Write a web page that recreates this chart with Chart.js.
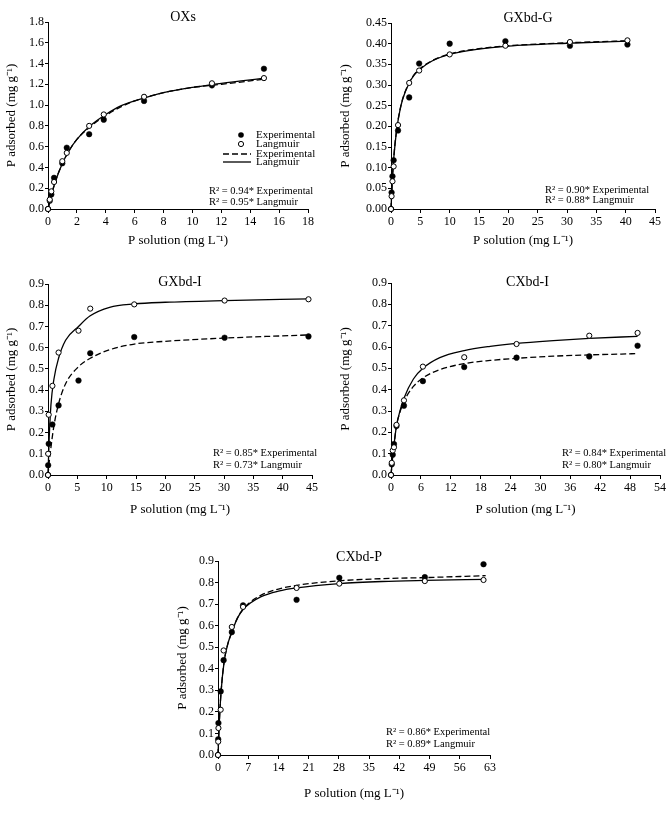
<!DOCTYPE html>
<html>
<head>
<meta charset="utf-8">
<title>P adsorption isotherms</title>
<script src="https://cdn.jsdelivr.net/npm/chart.js"></script>
<style>
    body { margin: 0; background: #fff; overflow: hidden; }
    #page { position: relative; width: 669px; height: 823px; }
    .panel { position: absolute; }
</style>
</head>
<body>
<div id="page">
    <div class="panel" id="p1"><canvas id="c1"></canvas></div>
    <div class="panel" id="p2"><canvas id="c2"></canvas></div>
    <div class="panel" id="p3"><canvas id="c3"></canvas></div>
    <div class="panel" id="p4"><canvas id="c4"></canvas></div>
    <div class="panel" id="p5"><canvas id="c5"></canvas></div>
</div>
<script>
// OXs
var oxsX    = [0, 0.12, 0.23, 0.42, 0.99, 1.3, 2.85, 3.86, 6.65, 11.35, 14.95];
var oxsExp  = [0, 0.08, 0.14, 0.30, 0.44, 0.59, 0.72, 0.86, 1.04, 1.19, 1.35];
var oxsLang = [0, 0.09, 0.17, 0.26, 0.46, 0.54, 0.80, 0.91, 1.08, 1.21, 1.26];
var oxsFitX    = [0, 0.25, 0.5, 1, 1.5, 2, 3, 4, 5, 6, 8, 10, 12, 15];
var oxsExpFit  = [0, 0.14, 0.26, 0.44, 0.57, 0.67, 0.80, 0.90, 0.98, 1.04, 1.12, 1.17, 1.20, 1.25];
var oxsLangFit = [0, 0.14, 0.26, 0.44, 0.57, 0.67, 0.81, 0.91, 0.99, 1.04, 1.12, 1.17, 1.21, 1.26];

// GXbd-G
var gxgX    = [0, 0.1, 0.25, 0.45, 1.2, 3.1, 4.8, 10, 19.5, 30.5, 40.3];
var gxgExp  = [0, 0.040, 0.079, 0.118, 0.190, 0.270, 0.352, 0.400, 0.406, 0.395, 0.398];
var gxgLang = [0, 0.031, 0.067, 0.103, 0.203, 0.305, 0.335, 0.374, 0.395, 0.404, 0.408];
var gxgFitX    = [0, 0.25, 0.5, 1, 1.5, 2, 3, 4, 5, 7, 10, 15, 20, 30, 40.3];
var gxgExpFit  = [0, 0.077, 0.130, 0.197, 0.238, 0.267, 0.303, 0.326, 0.340, 0.359, 0.375, 0.388, 0.395, 0.402, 0.407];
var gxgLangFit = [0, 0.075, 0.128, 0.195, 0.237, 0.266, 0.302, 0.325, 0.339, 0.358, 0.374, 0.387, 0.394, 0.401, 0.406];

// GXbd-I
var gxiX    = [0, 0.03, 0.12, 0.75, 1.8, 5.2, 7.2, 14.7, 30.1, 44.4];
var gxiExp  = [0, 0.046, 0.147, 0.238, 0.328, 0.445, 0.574, 0.650, 0.647, 0.653];
var gxiLang = [0, 0.10, 0.284, 0.42, 0.577, 0.68, 0.784, 0.804, 0.822, 0.828];
var gxiFitX    = [0, 0.2, 0.5, 1, 1.8, 3, 5.2, 7.2, 10.5, 14.7, 20, 30, 44.4];
var gxiExpFit  = [0, 0.06, 0.13, 0.23, 0.335, 0.43, 0.51, 0.55, 0.59, 0.617, 0.63, 0.645, 0.66];
var gxiLangFit = [0, 0.17, 0.33, 0.45, 0.55, 0.635, 0.70, 0.75, 0.79, 0.806, 0.814, 0.822, 0.83];

// CXbd-I
var cxiX    = [0, 0.15, 0.35, 0.6, 1.1, 2.6, 6.4, 14.7, 25.2, 39.8, 49.5];
var cxiExp  = [0, 0.05, 0.095, 0.145, 0.23, 0.325, 0.44, 0.506, 0.55, 0.556, 0.606];
var cxiLang = [0, 0.057, 0.115, 0.13, 0.235, 0.35, 0.508, 0.552, 0.614, 0.653, 0.666];
var cxiFitX    = [0, 0.3, 0.6, 1.1, 1.8, 2.6, 4.5, 6.4, 9.8, 14.7, 19.9, 25.2, 32.6, 39.8, 49.5];
var cxiExpFit  = [0, 0.075, 0.14, 0.23, 0.295, 0.345, 0.415, 0.455, 0.494, 0.522, 0.537, 0.547, 0.557, 0.563, 0.569];
var cxiLangFit = [0, 0.075, 0.14, 0.23, 0.30, 0.36, 0.45, 0.50, 0.55, 0.583, 0.603, 0.617, 0.63, 0.64, 0.65];

// CXbd-P
var cxpX    = [0, 0.05, 0.1, 0.62, 1.3, 3.2, 5.8, 18.2, 28.1, 47.9, 61.5];
var cxpExp  = [0, 0.073, 0.148, 0.295, 0.44, 0.57, 0.694, 0.72, 0.822, 0.825, 0.885];
var cxpLang = [0, 0.062, 0.125, 0.21, 0.485, 0.594, 0.687, 0.775, 0.795, 0.807, 0.812];
var cxpFitX    = [0, 0.3, 0.7, 1.4, 2.2, 3.2, 4.5, 5.8, 7.5, 10, 14, 18.2, 28.1, 38, 47.9, 62];
var cxpExpFit  = [0, 0.15, 0.29, 0.43, 0.51, 0.57, 0.635, 0.677, 0.71, 0.742, 0.77, 0.787, 0.808, 0.818, 0.823, 0.832];
var cxpLangFit = [0, 0.15, 0.29, 0.43, 0.51, 0.57, 0.635, 0.675, 0.705, 0.735, 0.76, 0.775, 0.795, 0.805, 0.81, 0.815];

var serif = '"Liberation Serif", "Times New Roman", serif';

function pts(xs, ys) {
    return xs.map(function(x, i) { return {x: x, y: ys[i]}; });
}

// titles, R² notes and the legend of the first panel
var panelText = {
    id: 'panelText',
    afterDraw: function(chart, args, o) {
        var ctx = chart.ctx, a = chart.chartArea;
        ctx.save();
        ctx.fillStyle = '#000';
        ctx.strokeStyle = '#000';
        ctx.textBaseline = 'middle';
        ctx.font = '14px ' + serif;
        ctx.textAlign = 'center';
        ctx.fillText(o.title, (a.left + a.right) / 2 + o.titleDx, a.top + o.titleDy);

        ctx.font = '10.5px ' + serif;
        ctx.textAlign = 'left';
        ctx.fillText(o.r2[0], a.right - o.r2Dx, a.bottom - o.r2Dy[0]);
        ctx.fillText(o.r2[1], a.right - o.r2Dx, a.bottom - o.r2Dy[1]);

        if (o.legend) {
            var lx = a.left, ly = a.top;
            ctx.font = '11px ' + serif;
            ctx.beginPath();
            ctx.arc(lx + 193, ly + 113, 2.8, 0, Math.PI * 2);
            ctx.fill();
            ctx.beginPath();
            ctx.arc(lx + 193, ly + 122, 2.6, 0, Math.PI * 2);
            ctx.fillStyle = '#fff';
            ctx.fill();
            ctx.lineWidth = 1;
            ctx.stroke();
            ctx.fillStyle = '#000';
            ctx.lineWidth = 1.3;
            ctx.setLineDash([6, 3]);
            ctx.beginPath();
            ctx.moveTo(lx + 175, ly + 132); ctx.lineTo(lx + 203, ly + 132);
            ctx.stroke();
            ctx.setLineDash([]);
            ctx.beginPath();
            ctx.moveTo(lx + 175, ly + 140); ctx.lineTo(lx + 203, ly + 140);
            ctx.stroke();
            ctx.fillText('Experimental', lx + 208, ly + 113);
            ctx.fillText('Langmuir', lx + 208, ly + 122);
            ctx.fillText('Experimental', lx + 208, ly + 132);
            ctx.fillText('Langmuir', lx + 208, ly + 140);
        }
        ctx.restore();
    }
};

function makePanel(n, box, yw, xh, xAxis, yAxis, d, txt) {
    var padL = 2, padT = Math.min(26, box.t), padR = 9, padB = 2;
    var w = box.r - box.l + yw + padL + padR;
    var h = box.b - box.t + xh + padT + padB;
    var wrap = document.getElementById('p' + n);
    wrap.style.left = (box.l - yw - padL) + 'px';
    wrap.style.top = (box.t - padT) + 'px';
    var cv = document.getElementById('c' + n);
    cv.width = w; cv.height = h;
    cv.style.width = w + 'px'; cv.style.height = h + 'px';

    var tickFont = {family: serif, size: 12};
    var titleFont = {family: serif, size: 13};

    new Chart(cv.getContext('2d'), {
        type: 'scatter',
        data: {
            datasets: [{
                label: 'Experimental',
                data: pts(d.x, d.exp),
                pointRadius: 2.8,
                pointBackgroundColor: '#000',
                pointBorderColor: '#000',
                pointBorderWidth: 0.5,
                clip: false,
                order: 1
            }, {
                label: 'Langmuir',
                data: pts(d.x, d.lang),
                pointRadius: 2.6,
                pointBackgroundColor: '#fff',
                pointBorderColor: '#000',
                pointBorderWidth: 1,
                clip: false,
                order: 0
            }, {
                label: 'Experimental fit',
                data: pts(d.fitX, d.expFit),
                showLine: true,
                pointRadius: 0,
                borderColor: '#000',
                borderWidth: 1.3,
                borderDash: [6, 3],
                cubicInterpolationMode: 'monotone',
                fill: false,
                clip: false,
                order: 3
            }, {
                label: 'Langmuir fit',
                data: pts(d.fitX, d.langFit),
                showLine: true,
                pointRadius: 0,
                borderColor: '#000',
                borderWidth: 1.3,
                cubicInterpolationMode: 'monotone',
                fill: false,
                clip: false,
                order: 2
            }]
        },
        options: {
            responsive: false,
            animation: false,
            devicePixelRatio: 1,
            layout: {padding: {left: padL, top: padT, right: padR, bottom: padB}},
            plugins: {
                legend: {display: false},
                tooltip: {enabled: false},
                panelText: txt
            },
            scales: {
                x: {
                    type: 'linear',
                    min: 0, max: xAxis.max,
                    afterFit: function(s) { s.height = xh; },
                    border: {color: '#000', width: 1},
                    grid: {drawOnChartArea: false, color: '#000', tickLength: 4},
                    ticks: {stepSize: xAxis.step, color: '#000', font: tickFont, padding: 2, maxRotation: 0},
                    title: {display: true, text: 'P solution (mg L\u207B\u00B9)', color: '#000', font: titleFont, padding: 0}
                },
                y: {
                    min: 0, max: yAxis.max,
                    afterFit: function(s) { s.width = yw; },
                    border: {color: '#000', width: 1},
                    grid: {drawOnChartArea: false, color: '#000', tickLength: 3},
                    ticks: {
                        stepSize: yAxis.step, color: '#000', font: tickFont, padding: 1,
                        callback: function(v) { return v.toFixed(yAxis.dec); }
                    },
                    title: {display: true, text: 'P adsorbed (mg g\u207B\u00B9)', color: '#000', font: titleFont, padding: 0}
                }
            }
        },
        plugins: [panelText]
    });
}

makePanel(1, {l: 48, t: 22, r: 308, b: 209}, 44, 39,
    {max: 18, step: 2}, {max: 1.8, step: 0.2, dec: 1},
    {x: oxsX, exp: oxsExp, lang: oxsLang, fitX: oxsFitX, expFit: oxsExpFit, langFit: oxsLangFit},
    {title: 'OXs', titleDx: 5, titleDy: -5, legend: true,
     r2: ['R\u00B2 = 0.94* Experimental', 'R\u00B2 = 0.95* Langmuir'], r2Dx: 99, r2Dy: [18, 7]});

makePanel(2, {l: 391, t: 23, r: 655, b: 209}, 53, 39,
    {max: 45, step: 5}, {max: 0.45, step: 0.05, dec: 2},
    {x: gxgX, exp: gxgExp, lang: gxgLang, fitX: gxgFitX, expFit: gxgExpFit, langFit: gxgLangFit},
    {title: 'GXbd-G', titleDx: 5, titleDy: -5, legend: false,
     r2: ['R\u00B2 = 0.90* Experimental', 'R\u00B2 = 0.88* Langmuir'], r2Dx: 110, r2Dy: [19, 9]});

makePanel(3, {l: 48, t: 284, r: 312, b: 475}, 44, 42,
    {max: 45, step: 5}, {max: 0.9, step: 0.1, dec: 1},
    {x: gxiX, exp: gxiExp, lang: gxiLang, fitX: gxiFitX, expFit: gxiExpFit, langFit: gxiLangFit},
    {title: 'GXbd-I', titleDx: 0, titleDy: -2, legend: false,
     r2: ['R\u00B2 = 0.85* Experimental', 'R\u00B2 = 0.73* Langmuir'], r2Dx: 99, r2Dy: [22, 10]});

makePanel(4, {l: 391, t: 283, r: 660, b: 475}, 53, 42,
    {max: 54, step: 6}, {max: 0.9, step: 0.1, dec: 1},
    {x: cxiX, exp: cxiExp, lang: cxiLang, fitX: cxiFitX, expFit: cxiExpFit, langFit: cxiLangFit},
    {title: 'CXbd-I', titleDx: 2, titleDy: -1, legend: false,
     r2: ['R\u00B2 = 0.84* Experimental', 'R\u00B2 = 0.80* Langmuir'], r2Dx: 98, r2Dy: [22, 10]});

makePanel(5, {l: 218, t: 561, r: 490, b: 755}, 43, 46,
    {max: 63, step: 7}, {max: 0.9, step: 0.1, dec: 1},
    {x: cxpX, exp: cxpExp, lang: cxpLang, fitX: cxpFitX, expFit: cxpExpFit, langFit: cxpLangFit},
    {title: 'CXbd-P', titleDx: 5, titleDy: -4, legend: false,
     r2: ['R\u00B2 = 0.86* Experimental', 'R\u00B2 = 0.89* Langmuir'], r2Dx: 104, r2Dy: [23, 11]});
</script>
</body>
</html>
